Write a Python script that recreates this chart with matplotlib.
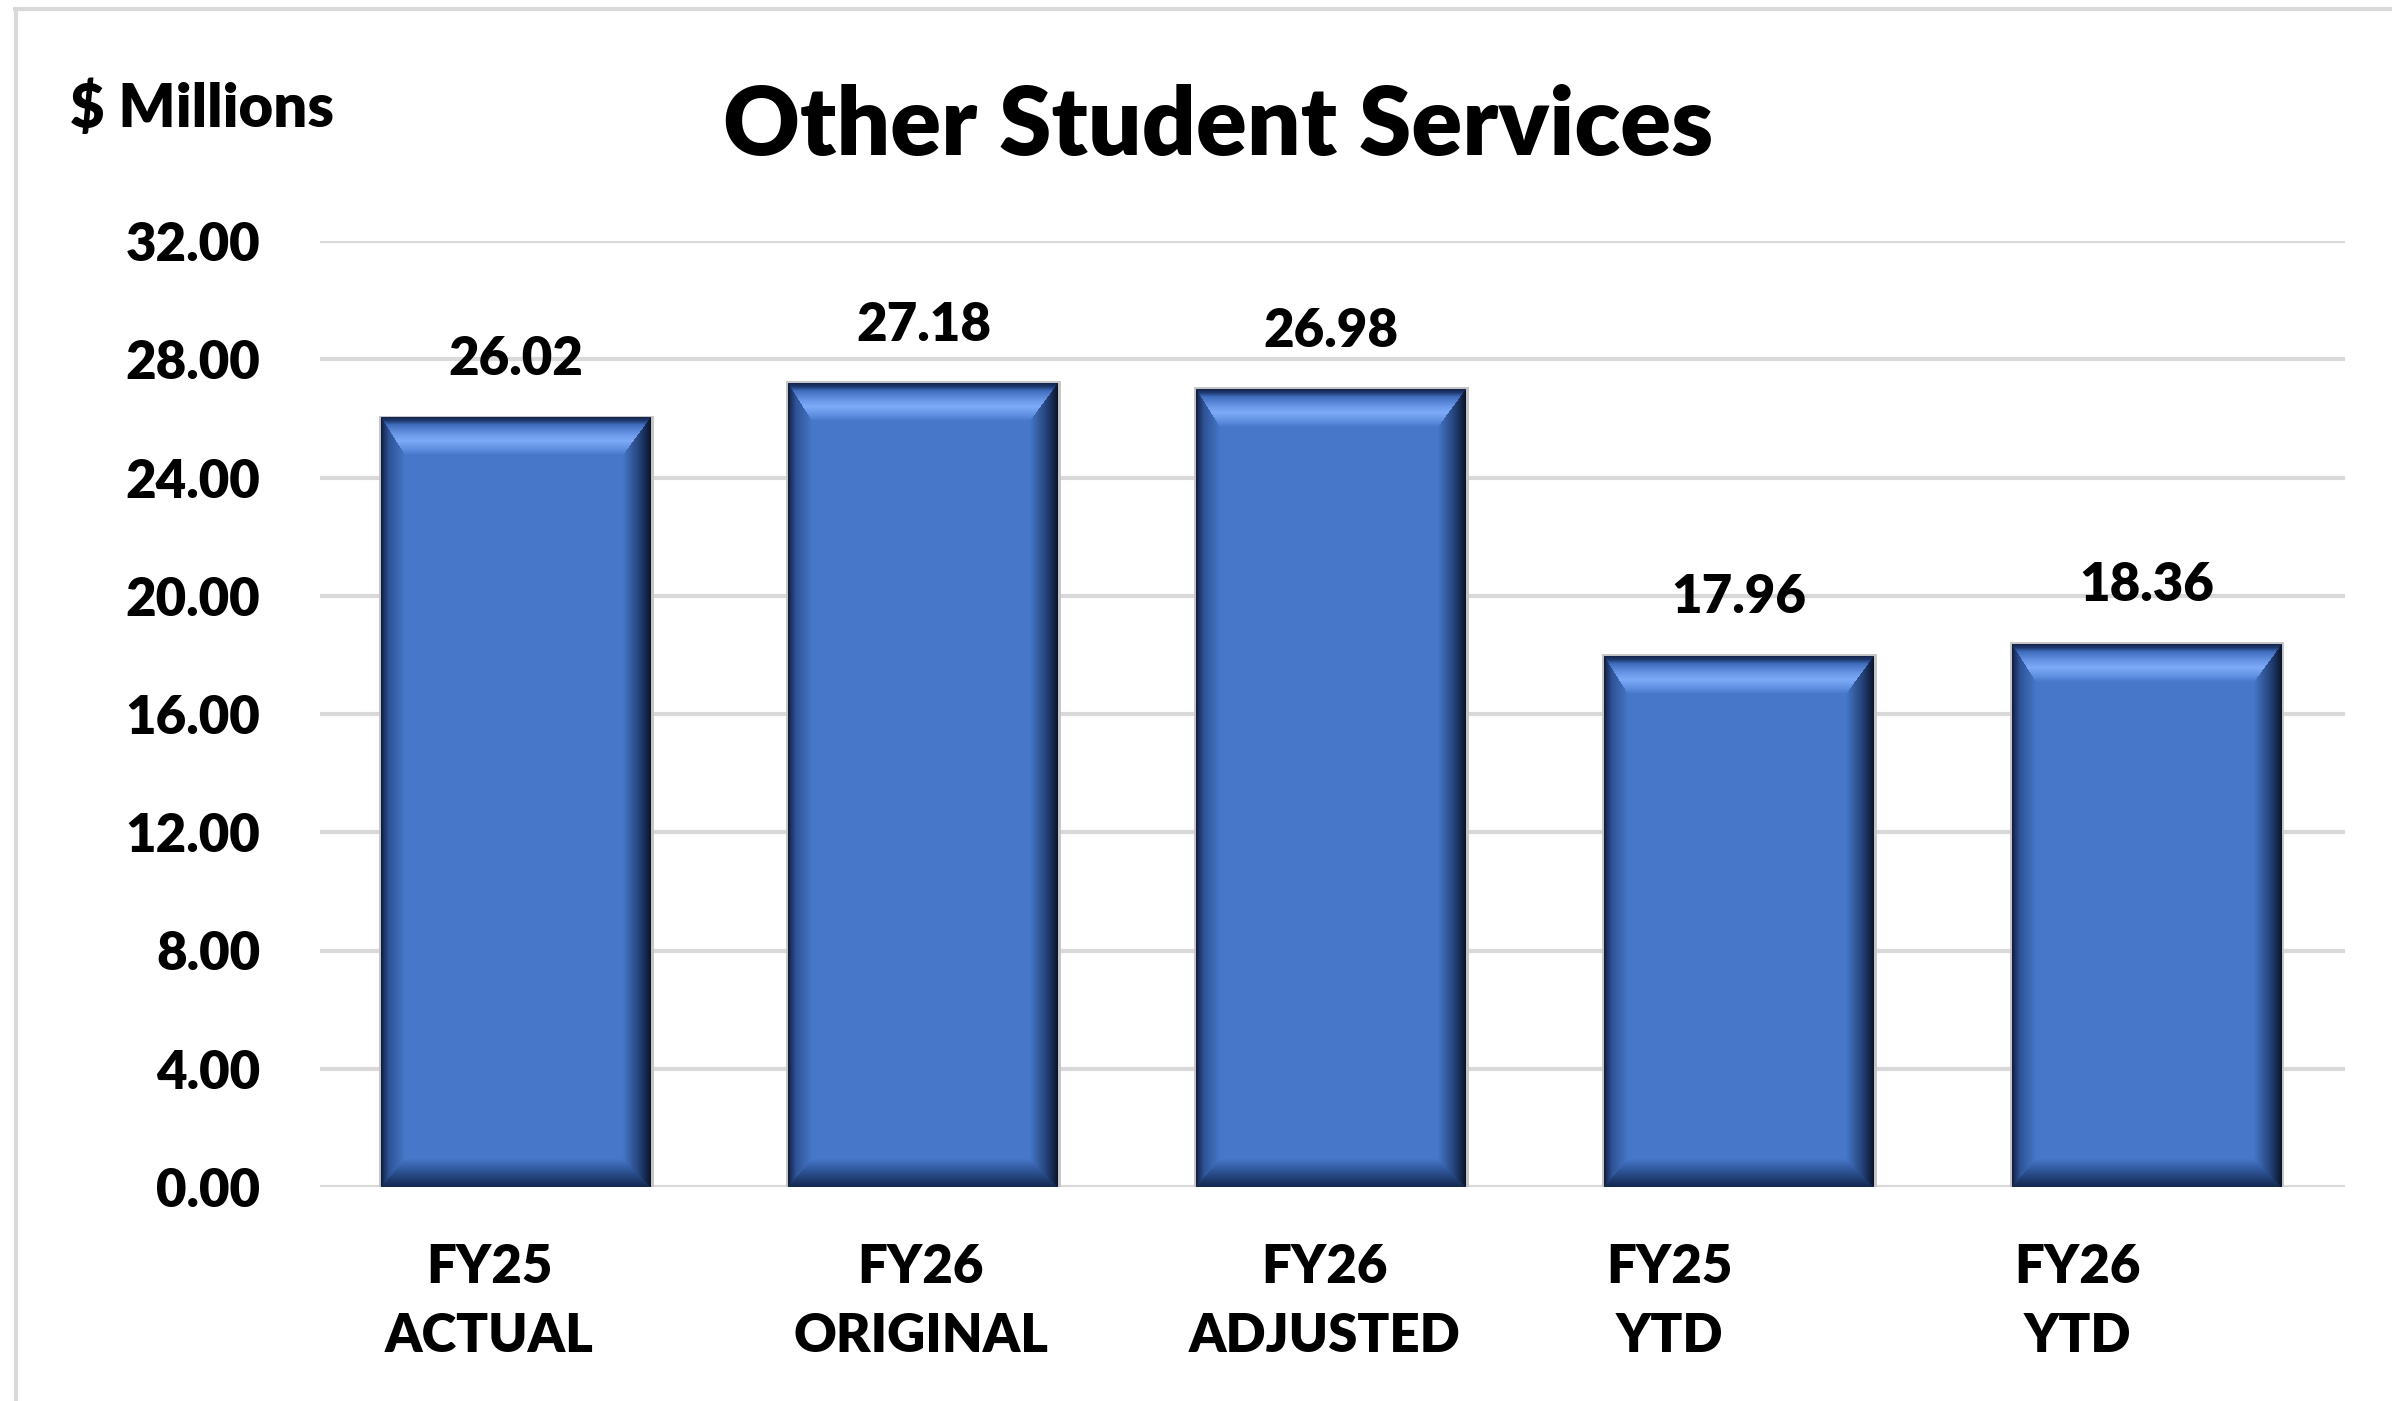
import numpy as np
import matplotlib
matplotlib.use("Agg")
import matplotlib.pyplot as plt
from matplotlib.lines import Line2D
from matplotlib import font_manager

# ---- data ----
categories = ["FY25\nACTUAL", "FY26\nORIGINAL", "FY26\nADJUSTED", "FY25\nYTD", "FY26\nYTD"]
values = [26.02, 27.18, 26.98, 17.96, 18.36]
value_labels = ["26.02", "27.18", "26.98", "17.96", "18.36"]
y_ticks = [0, 4, 8, 12, 16, 20, 24, 28, 32]
y_tick_labels = ["0.00", "4.00", "8.00", "12.00", "16.00", "20.00", "24.00", "28.00", "32.00"]
title = "Other Student Services"
unit_label = "$ Millions"

# ---- style ----
label_offsets = [-0.064, -0.007, -0.015, -0.17, -0.17]  # x-offset of category labels
W_PX, H_PX, DPI = 2392, 1401, 100
FONT = "Lato"
WEIGHT = "heavy"
BASE = np.array([70, 119, 200]) / 255.0

plt.rcParams["font.family"] = [FONT, "DejaVu Sans"]
plt.rcParams["font.weight"] = WEIGHT

fig = plt.figure(figsize=(W_PX / DPI, H_PX / DPI), dpi=DPI)
fig.patch.set_facecolor("white")

ax_l, ax_r, ax_t, ax_b = 320, 2345, 241, 1187
ax = fig.add_axes([ax_l / W_PX, 1 - ax_b / H_PX, (ax_r - ax_l) / W_PX, (ax_b - ax_t) / H_PX])
XLIM = (-0.48, len(values) - 1 + 0.487)
ax.set_xlim(*XLIM)
ax.set_ylim(0, 32)
for s in ax.spines.values():
    s.set_visible(False)
ax.set_yticks(y_ticks, y_tick_labels)
ax.yaxis.grid(True, color="#d9d9d9", linewidth=3.0)
ax.set_axisbelow(True)
ax.tick_params(axis="y", length=0, pad=43, labelsize=38)
x = np.arange(len(values))
ax.set_xticks(x + np.array(label_offsets), categories)
ax.tick_params(axis="x", length=0, pad=40, labelsize=38)
for lab in ax.get_xticklabels():
    lab.set_linespacing(1.5)
    lab.set_fontweight(WEIGHT)
for lab in ax.get_yticklabels():
    lab.set_fontweight(WEIGHT)

bw = 0.662
bars = ax.bar(x, values, width=bw, color=BASE, edgecolor="#c4c4c4", linewidth=3.5, zorder=2)


def hexrgb(h):
    h = h.lstrip("#")
    return np.array([int(h[i:i + 2], 16) for i in (0, 2, 4)]) / 255.0


def ramp(t, stops):
    pos = [p for p, _ in stops]
    cols = np.array([hexrgb(c) if isinstance(c, str) else c for _, c in stops])
    out = np.stack([np.interp(t, pos, cols[:, k]) for k in range(3)], axis=-1)
    return out


fig.canvas.draw()
for rect in bars:
    x0, y0 = rect.get_x(), rect.get_y()
    x1, y1 = x0 + rect.get_width(), y0 + rect.get_height()
    p0 = ax.transData.transform((x0, y0))
    p1 = ax.transData.transform((x1, y1))
    Wp = int(round(p1[0] - p0[0]))
    Hp = int(round(p1[1] - p0[1]))
    xx = np.arange(Wp) + 0.5
    yy = np.arange(Hp) + 0.5
    X, Y = np.meshgrid(xx, yy)
    bl, br, bt, bb = 24.0, 28.0, 38.0, 28.0
    nl = X / bl
    nr = (Wp - X) / br
    nt = Y / bt
    nb = (Hp - Y) / bb
    stack = np.stack([nl, nr, nt, nb])
    edge = np.argmin(stack, axis=0)
    m = np.min(stack, axis=0)
    img = np.ones((Hp, Wp, 3)) * BASE
    t = np.clip(m, 0, 1)
    left = ramp(t, [(0, "#0e1a33"), (0.12, "#1c3260"), (0.35, "#2f5497"), (1.0, BASE)])
    right = ramp(t, [(0, "#0a1426"), (0.15, "#142447"), (0.45, "#27467f"), (1.0, BASE)])
    top = ramp(t, [(0, "#13234a"), (0.1, "#1f3a72"), (0.2, "#3f6cbc"), (0.45, "#6996e6"),
                   (0.62, "#7dabf8"), (0.85, "#5f8fe0"), (1.0, BASE)])
    bot = ramp(t, [(0, "#15284c"), (0.25, "#1f3a6e"), (0.6, "#2f569a"), (1.0, BASE)])
    inside = m < 1
    for k, arr in enumerate([left, right, top, bot]):
        sel = inside & (edge == k)
        img[sel] = arr[sel]
    ax.imshow(img, extent=(x0, x1, y0, y1), origin="upper", aspect="auto",
              interpolation="nearest", zorder=3)

ax.set_xlim(*XLIM)
ax.set_ylim(0, 32)

for xi, v, lab in zip(x, values, value_labels):
    ax.annotate(lab, (xi, v), xytext=(0, 42), textcoords="offset points",
                ha="center", va="center", fontsize=38, fontweight=WEIGHT, zorder=4)

fig.text(1218 / W_PX, 1 - 128 / H_PX, title, ha="center", va="center",
         fontsize=68, fontweight=WEIGHT)
fig.text(70 / W_PX, 1 - 127 / H_PX, unit_label, ha="left", va="baseline",
         fontsize=43, fontweight=WEIGHT)

# outer frame (top and left visible)
fig.add_artist(Line2D([15 / W_PX, 1], [1 - 9 / H_PX, 1 - 9 / H_PX], color="#d9d9d9",
                      linewidth=3.0, transform=fig.transFigure))
fig.add_artist(Line2D([16 / W_PX, 16 / W_PX], [0, 1 - 9 / H_PX], color="#d9d9d9",
                      linewidth=3.0, transform=fig.transFigure))

fig.savefig("out.png", dpi=DPI, facecolor="white")
